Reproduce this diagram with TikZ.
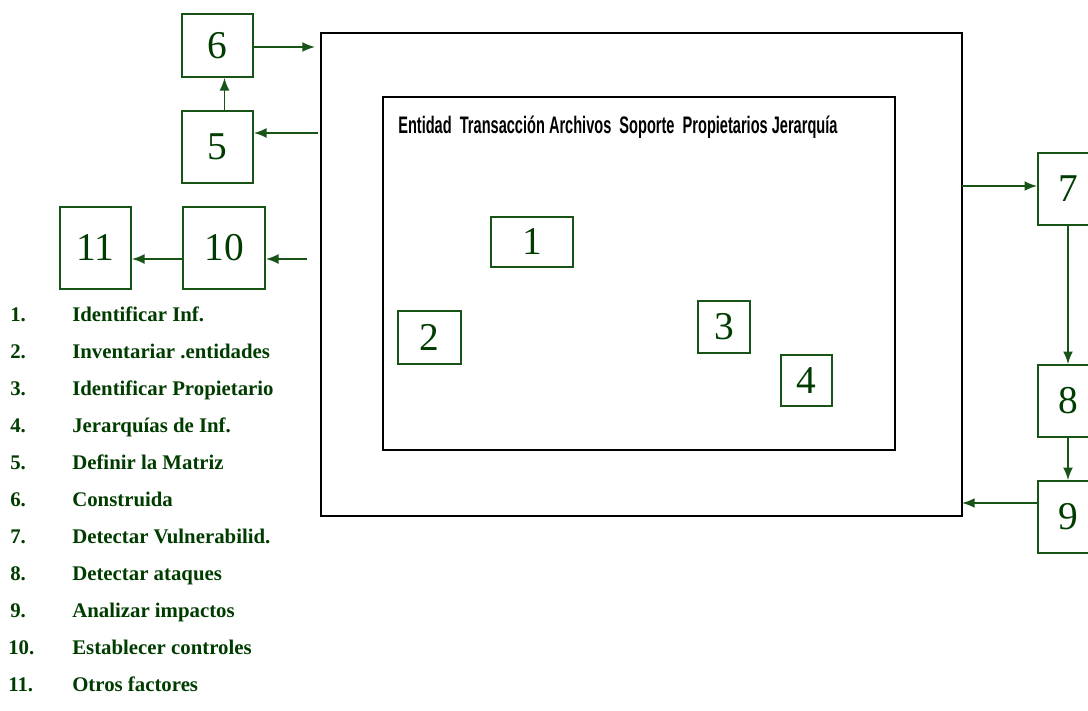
\documentclass[tikz,border=0pt]{standalone}
\usepackage{fontspec}
\setmainfont{Liberation Serif}
\setsansfont{Liberation Sans}
\usetikzlibrary{arrows.meta}
\definecolor{boxgreen}{RGB}{24,84,24}
\definecolor{textgreen}{RGB}{0,60,0}
\newcommand{\pxl}{0.025cm}

\begin{document}
\begin{tikzpicture}[x=0.025cm, y=-0.025cm,
  >={Latex[length=9pt,width=7pt]},
  box/.style={draw=boxgreen, line width=1.2pt, text=textgreen, inner sep=0pt,
    font=\fontsize{28}{30}\selectfont},
  frame/.style={draw=black, line width=2pt, inner sep=0pt},
  arr/.style={->, draw=boxgreen, fill=boxgreen, line width=1.2pt},
  num/.style={anchor=base west, text=textgreen, inner sep=0pt,
    font=\bfseries\fontsize{14.8}{16}\selectfont}]
  \clip (0,0) rectangle (1088,711);

  % Frames
  \node[frame, minimum width=641*\pxl, minimum height=483*\pxl] (outer) at (641.5,274.5) {};
  \node[frame, minimum width=512*\pxl, minimum height=353*\pxl] (inner) at (639,273.5) {};
  \node[anchor=west, inner sep=0pt, font=\sffamily\bfseries\fontsize{17}{18}\selectfont] (header) at (398,127)
    {\scalebox{0.61}[1]{Entidad\ \ Transacción Archivos\ \ Soporte\ \ Propietarios Jerarquía}};

  % Nodes
  \node[box, minimum width=82*\pxl, minimum height=50*\pxl] (s1) at (532,242) {1};
  \node[box, minimum width=63*\pxl, minimum height=53*\pxl] (s2) at (429.5,337.5) {2};
  \node[box, minimum width=52*\pxl, minimum height=52*\pxl] (s3) at (724,327) {3};
  \node[box, minimum width=51*\pxl, minimum height=51*\pxl] (s4) at (806.5,380.5) {4};
  \node[box, minimum width=71*\pxl, minimum height=72*\pxl] (s5) at (217.5,147) {5};
  \node[box, minimum width=71*\pxl, minimum height=63*\pxl] (s6) at (217.5,45.5) {6};
  \node[box, minimum width=60*\pxl, minimum height=72*\pxl] (s7) at (1068,189) {7};
  \node[box, minimum width=60*\pxl, minimum height=72*\pxl] (s8) at (1068,401) {8};
  \node[box, minimum width=60*\pxl, minimum height=72*\pxl] (s9) at (1068,517) {9};
  \node[box, minimum width=82*\pxl, minimum height=82*\pxl] (s10) at (224,248) {10};
  \node[box, minimum width=71*\pxl, minimum height=82*\pxl] (s11) at (95.5,248) {11};

  % free ends on the outer frame
  \coordinate (o6) at (315,47);
  \coordinate (o5) at (318,133);
  \coordinate (o10) at (307,259);
  \coordinate (o7) at (962,186);
  \coordinate (o9) at (962,503);

  % Arrows
  \draw[arr] (s6.east |- o6) -- (o6);
  \draw[arr] (o5) -- (s5.east |- o5);
  \draw[arr] ([xshift=7*\pxl]s5.north) -- ([xshift=7*\pxl]s6.south);
  \draw[arr] (o10) -- (s10.east |- o10);
  \draw[arr] (s10.west |- o10) -- (s11.east |- o10);
  \draw[arr] (o7) -- (s7.west |- o7);
  \draw[arr] (s7) -- (s8);
  \draw[arr] (s8) -- (s9);
  \draw[arr] (s9.west |- o9) -- (o9);

  % Legend
  \node[num] (n1) at (10,321) {1.};   \node[num] (t1) at (72,321) {Identificar Inf.};
  \node[num] (n2) at (10,358) {2.};   \node[num] (t2) at (72,358) {Inventariar .entidades};
  \node[num] (n3) at (10,395) {3.};   \node[num] (t3) at (72,395) {Identificar Propietario};
  \node[num] (n4) at (10,432) {4.};   \node[num] (t4) at (72,432) {Jerarquías de Inf.};
  \node[num] (n5) at (10,469) {5.};   \node[num] (t5) at (72,469) {Definir la Matriz};
  \node[num] (n6) at (10,506) {6.};   \node[num] (t6) at (72,506) {Construida};
  \node[num] (n7) at (10,543) {7.};   \node[num] (t7) at (72,543) {Detectar Vulnerabilid.};
  \node[num] (n8) at (10,580) {8.};   \node[num] (t8) at (72,580) {Detectar ataques};
  \node[num] (n9) at (10,617) {9.};   \node[num] (t9) at (72,617) {Analizar impactos};
  \node[num] (n10) at (8,654) {10.};  \node[num] (t10) at (72,654) {Establecer controles};
  \node[num] (n11) at (8,691) {11.};  \node[num] (t11) at (72,691) {Otros factores};
\end{tikzpicture}
\end{document}
